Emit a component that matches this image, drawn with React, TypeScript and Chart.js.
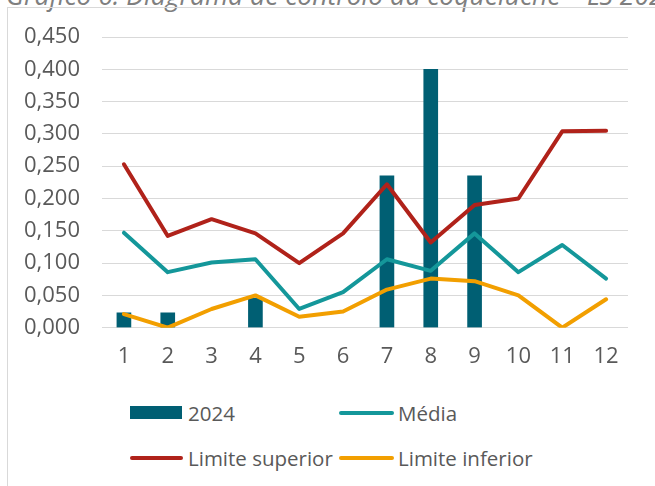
import React, { useEffect, useRef } from "react";
import { Chart, registerables } from "chart.js";

Chart.register(...registerables);

const titleText = "Gráfico 6. Diagrama de controlo da coqueluche – LS 2024";
const months = ["1", "2", "3", "4", "5", "6", "7", "8", "9", "10", "11", "12"];
const cases2024 = [0.023, 0.023, null, 0.046, null, null, 0.235, 0.4, 0.235, null, null, null];
const media = [0.147, 0.086, 0.101, 0.106, 0.029, 0.055, 0.106, 0.088, 0.146, 0.086, 0.128, 0.076];
const limiteSuperior = [0.253, 0.142, 0.168, 0.146, 0.1, 0.146, 0.222, 0.132, 0.19, 0.2, 0.304, 0.305];
const limiteInferior = [0.021, 0, 0.029, 0.05, 0.017, 0.025, 0.059, 0.076, 0.072, 0.05, 0, 0.044];

const C_BAR = "#005f73";
const C_MEDIA = "#14979a";
const C_SUP = "#b0221a";
const C_INF = "#f29f00";
const TXT = "#595959";
const FONT = "'Open Sans', 'DejaVu Sans', sans-serif";

export default function App() {
  const ref = useRef<HTMLCanvasElement | null>(null);

  useEffect(() => {
    if (!ref.current) return;
    const chart = new Chart(ref.current, {
      type: "bar",
      data: {
        labels: months,
        datasets: [
          { type: "bar", label: "2024", data: cases2024, backgroundColor: C_BAR, barThickness: 14, order: 2 },
          { type: "line", label: "Média", data: media, borderColor: C_MEDIA, borderWidth: 4, pointRadius: 0, borderCapStyle: "round", borderJoinStyle: "round", order: 1 },
          { type: "line", label: "Limite superior", data: limiteSuperior, borderColor: C_SUP, borderWidth: 4, pointRadius: 0, borderCapStyle: "round", borderJoinStyle: "round", order: 0 },
          { type: "line", label: "Limite inferior", data: limiteInferior, borderColor: C_INF, borderWidth: 4, pointRadius: 0, borderCapStyle: "round", borderJoinStyle: "round", order: 0 },
        ],
      } as any,
      options: {
        animation: false,
        responsive: false,
        maintainAspectRatio: false,
        layout: { padding: { top: 29, right: 27, left: 0, bottom: 0 } },
        plugins: { legend: { display: false }, tooltip: { enabled: false }, title: { display: false } },
        scales: {
          x: {
            grid: { display: false, drawTicks: false },
            border: { display: false },
            ticks: { color: TXT, font: { family: FONT, size: 22 }, padding: 16 },
            afterFit: (s: any) => { s.height = 52.3; s.paddingLeft = 0; s.paddingRight = 0; },
          },
          y: {
            min: 0,
            max: 0.45,
            grid: { color: "#d9d9d9", lineWidth: 1, drawTicks: false },
            border: { display: false },
            ticks: {
              stepSize: 0.05,
              color: TXT,
              font: { family: FONT, size: 22 },
              padding: 22,
              callback: (v: any) => Number(v).toFixed(3).replace(".", ","),
            },
            afterFit: (s: any) => { s.width = 94; s.paddingTop = 0; s.paddingBottom = 0; },
          },
        },
      } as any,
    });
    return () => chart.destroy();
  }, []);

  const legendText: React.CSSProperties = {
    position: "absolute",
    fontFamily: FONT,
    fontSize: 20.5,
    lineHeight: "24px",
    color: TXT,
    whiteSpace: "nowrap",
  };

  return (
    <div style={{ position: "fixed", left: 0, top: 0, width: 655, height: 486, overflow: "hidden", background: "#fff" }}>
      <div style={{ position: "absolute", left: 6, top: -18, fontFamily: FONT, fontStyle: "italic", fontSize: 26.5, lineHeight: "26px", color: "#7f7f7f", whiteSpace: "nowrap" }}>
        {titleText}
      </div>
      <div style={{ position: "absolute", left: 7, top: 7, width: 700, height: 500, borderLeft: "1.5px solid #d9d9d9", borderTop: "1.5px solid #d9d9d9" }} />
      <canvas ref={ref} width={647} height={372} style={{ position: "absolute", left: 8, top: 8, width: 647, height: 372 }} />
      <div style={{ position: "absolute", left: 130, top: 406, width: 52, height: 13, background: C_BAR }} />
      <div style={{ ...legendText, left: 188, top: 401 }}>2024</div>
      <div style={{ position: "absolute", left: 339, top: 411, width: 55, height: 4, borderRadius: 2, background: C_MEDIA }} />
      <div style={{ ...legendText, left: 398, top: 401 }}>Média</div>
      <div style={{ position: "absolute", left: 130, top: 455.5, width: 53, height: 4, borderRadius: 2, background: C_SUP }} />
      <div style={{ ...legendText, left: 188, top: 446 }}>Limite superior</div>
      <div style={{ position: "absolute", left: 339, top: 455.5, width: 55, height: 4, borderRadius: 2, background: C_INF }} />
      <div style={{ ...legendText, left: 398, top: 446 }}>Limite inferior</div>
    </div>
  );
}
